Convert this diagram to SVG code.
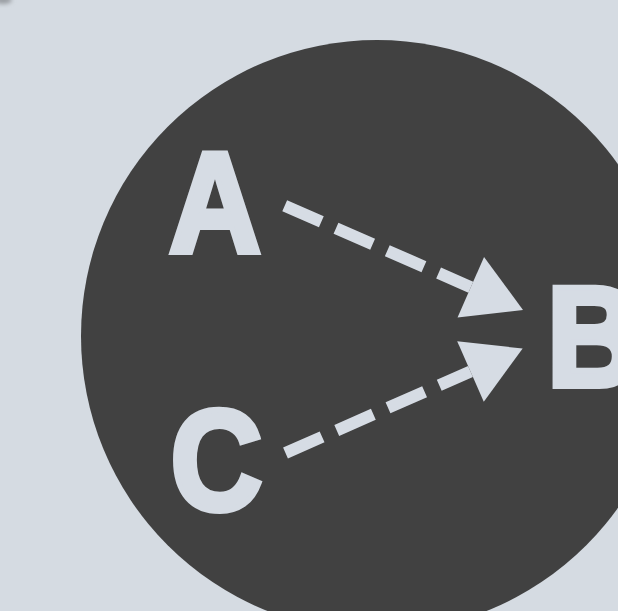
<svg xmlns="http://www.w3.org/2000/svg" width="618" height="611" viewBox="0 0 618 611">
  <style>
    .lbl { font-family: "Liberation Sans", Arial, sans-serif; font-weight: bold; font-size: 143px; fill: #d6dce4; stroke: #d6dce4; stroke-width: 6; stroke-linejoin: miter; }
    .conn { fill: none; stroke: #d6dce4; stroke-width: 12; stroke-dasharray: 40 16; stroke-linecap: butt; }
  </style>
  <defs>
    <marker id="head" markerUnits="userSpaceOnUse" markerWidth="60" markerHeight="70" refX="0" refY="33" orient="auto" overflow="visible">
      <path d="M0,0 L57,33 L0,66 Z" fill="#d6dce4"/>
    </marker>
    <filter id="blur" x="-50%" y="-50%" width="200%" height="200%">
      <feGaussianBlur stdDeviation="2"/>
    </filter>
  </defs>
  <rect width="618" height="611" fill="#d5dbe2"/>
  <ellipse cx="3" cy="0" rx="9" ry="4" fill="#9a9ea3" filter="url(#blur)"/>
  <g id="circle">
    <circle cx="377" cy="336" r="296" fill="#414141"/>
  </g>
  <g id="connectors">
    <line class="conn" x1="284.7" y1="205.7" x2="470.8" y2="287.2" marker-end="url(#head)"/>
    <line class="conn" x1="285.5" y1="453" x2="470.5" y2="371.5" marker-end="url(#head)"/>
  </g>
  <g id="node-A">
    <text class="lbl" transform="translate(215,252) scale(0.89,1)" text-anchor="middle">A</text>
  </g>
  <g id="node-B">
    <text class="lbl" transform="translate(546.7,386) scale(0.89,1)">B</text>
  </g>
  <g id="node-C">
    <text class="lbl" transform="translate(216.5,510) scale(0.89,1)" text-anchor="middle">C</text>
  </g>
</svg>
